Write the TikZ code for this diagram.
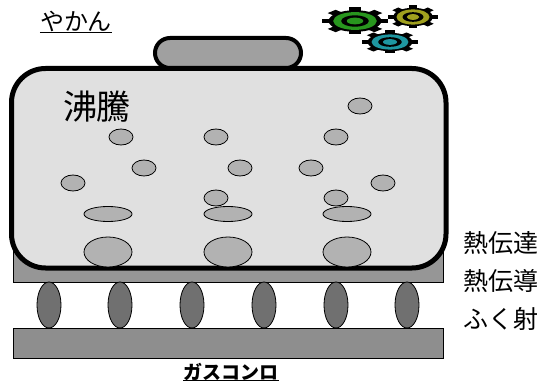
\documentclass[tikz,border=0pt]{standalone}
\usepackage{fontspec}
\usepackage{tikz}
\usetikzlibrary{shapes.geometric}
\newfontfamily\jpfont{Noto Sans CJK JP}

\definecolor{kettlefill}{RGB}{224,224,224}
\definecolor{lidgray}{RGB}{160,160,160}
\definecolor{bubblegray}{RGB}{178,178,178}
\definecolor{plategray}{RGB}{150,150,150}
\definecolor{flamegray}{RGB}{112,112,112}
\definecolor{gearGreen}{RGB}{40,150,30}
\definecolor{gearOlive}{RGB}{160,160,30}
\definecolor{gearTeal}{RGB}{30,150,160}

\begin{document}
\begin{tikzpicture}
  [x=1pt,y=-1pt,
   bubble/.style={ellipse,draw,line width=0.8pt,fill=bubblegray,inner sep=0pt,minimum width=24pt,minimum height=16pt},
   flatbubble/.style={bubble,minimum width=48pt,minimum height=15pt},
   bigbubble/.style={bubble,minimum width=48pt,minimum height=30pt},
   flame/.style={ellipse,draw,line width=0.8pt,fill=flamegray,inner sep=0pt,minimum width=24pt,minimum height=46pt},
   sidetext/.style={font=\jpfont\fontsize{25}{25}\selectfont,inner sep=0pt,anchor=base west},
   pics/gear/.style={code={
     % toothed black rim, coloured wheel, black ring and hub
     \fill[black] (0,0) circle (0.8);
     \fill[black] (-0.17,-1) rectangle (0.17,1);
     \fill[black,rotate=45] (-0.17,-1) rectangle (0.17,1);
     \fill[black,rotate=90] (-0.17,-1) rectangle (0.17,1);
     \fill[black,rotate=135] (-0.17,-1) rectangle (0.17,1);
     \fill[#1] (0,0) circle (0.66);
     \fill[black] (0,0) circle (0.42);
     \fill[#1] (0,0) circle (0.25);
   }}]
  \useasboundingbox (0,0) rectangle (544,385);

  % stove plates and flames
  \draw[line width=0.8pt,fill=plategray] (13,248) rectangle (443,282);
  \draw[line width=0.8pt,fill=plategray!95!black] (13,328) rectangle (443,358);

  \node[flame] (f1) at (49,305)  {};
  \node[flame] (f2) at (120,305) {};
  \node[flame] (f3) at (192,305) {};
  \node[flame] (f4) at (264,305) {};
  \node[flame] (f5) at (336,305) {};
  \node[flame] (f6) at (407,305) {};

  % kettle
  \draw[line width=5pt,fill=kettlefill,rounded corners=34pt] (11.5,68.5) rectangle (446,268);
  \draw[line width=4pt,fill=lidgray,rounded corners=15pt] (155,38) rectangle (301,68);

  \node[bubble] (s1)  at (360,106) {};
  \node[bubble] (s2)  at (121,137) {};
  \node[bubble] (s3)  at (216,137) {};
  \node[bubble] (s4)  at (336,137) {};
  \node[bubble] (s5)  at (144,168) {};
  \node[bubble] (s6)  at (240,168) {};
  \node[bubble] (s7)  at (311,168) {};
  \node[bubble] (s8)  at (73,183)  {};
  \node[bubble] (s9)  at (383,183) {};
  \node[bubble] (s10) at (216,198) {};
  \node[bubble] (s11) at (336,198) {};

  \node[flatbubble] (m1) at (108,214) {};
  \node[flatbubble] (m2) at (228,214) {};
  \node[flatbubble] (m3) at (347,214) {};

  \node[bigbubble] (b1) at (108,252) {};
  \node[bigbubble] (b2) at (228,252) {};
  \node[bigbubble] (b3) at (347,252) {};

  \node[font=\jpfont\fontsize{34}{34}\selectfont,inner sep=0pt,anchor=base] (boil) at (97,120) {沸騰};

  % titles
  \node[font=\jpfont\fontsize{24}{24}\selectfont,inner sep=0pt,anchor=base] (kettle) at (76,31) {やかん};
  \draw[line width=1.8pt] (kettle.south west) -- (kettle.south east);

  \node[font=\jpfont\bfseries\fontsize{19}{19}\selectfont,inner sep=0pt,anchor=base] (stove) at (231,379) {ガスコンロ};
  \draw[line width=1.2pt] (stove.south west) -- (stove.south east);

  \node[sidetext] (conv) at (463,252.5) {熱伝達};
  \node[sidetext] (cond) at (463,290.5) {熱伝導};
  \node[sidetext] (rad)  at (463,328.5) {ふく射};

  % gears
  \pic[xscale=33,yscale=13.5] (g1) at (355,21) {gear=gearGreen};
  \pic[xscale=25,yscale=11.5] (g2) at (413,17) {gear=gearOlive};
  \pic[xscale=28,yscale=11.5] (g3) at (390,42) {gear=gearTeal};
\end{tikzpicture}
\end{document}
